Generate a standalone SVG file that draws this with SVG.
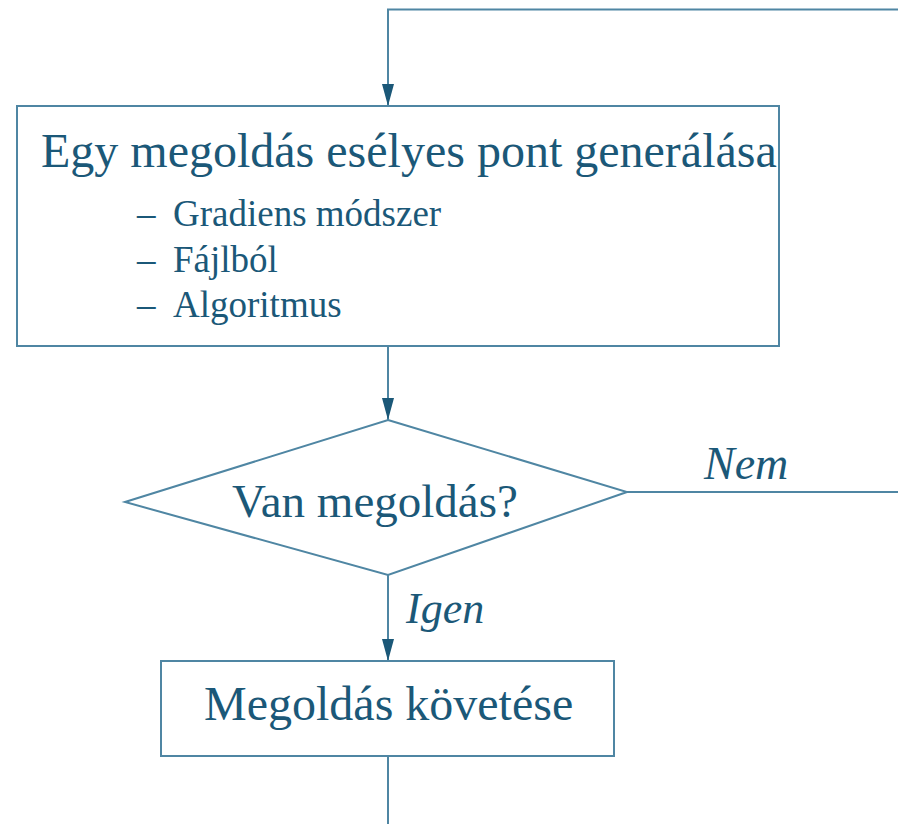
<svg xmlns="http://www.w3.org/2000/svg" width="898" height="824" viewBox="0 0 898 824">
<style>
.t{font-family:"Liberation Serif","Times New Roman",serif;fill:#1b5878}
.i{font-style:italic}
.box{fill:#fff;stroke:#4f86a3;stroke-width:2}
.ln{fill:none;stroke:#4f86a3;stroke-width:2}
</style>
<defs>
<marker id="ah" viewBox="0 0 22 12" refX="22" refY="6" markerWidth="22" markerHeight="12" markerUnits="userSpaceOnUse" orient="auto">
<path d="M0,0 L22,6 L0,12 Z" fill="#1b5878"/>
</marker>
</defs>
<rect width="898" height="824" fill="#fff"/>
<g id="connectors">
<path class="ln" d="M898,9.5 L388,9.5 L388,106" marker-end="url(#ah)"/>
<path class="ln" d="M388,346 L388,420" marker-end="url(#ah)"/>
<path class="ln" d="M627,492 L898,492"/>
<path class="ln" d="M388,575 L388,661" marker-end="url(#ah)"/>
<path class="ln" d="M388,756 L388,824"/>
<text class="t i" x="704" y="479" font-size="46">Nem</text>
<text class="t i" x="406" y="623" font-size="44">Igen</text>
</g>
<g id="generate">
<rect class="box" x="17" y="106" width="762" height="240"/>
<text class="t" x="41" y="167" font-size="48">Egy megoldás esélyes pont generálása</text>
<text class="t" x="137" y="226" font-size="37">–<tspan x="173">Gradiens módszer</tspan></text>
<text class="t" x="137" y="272" font-size="37">–<tspan x="173">Fájlból</tspan></text>
<text class="t" x="137" y="317" font-size="37">–<tspan x="173">Algoritmus</tspan></text>
</g>
<g id="decision">
<polygon class="box" points="388,420 627,492 388,575 125,502"/>
<text class="t" x="232" y="517" font-size="47">Van megoldás?</text>
</g>
<g id="follow">
<rect class="box" x="161" y="661" width="453" height="95"/>
<text class="t" x="204" y="720" font-size="48">Megoldás követése</text>
</g>
</svg>
